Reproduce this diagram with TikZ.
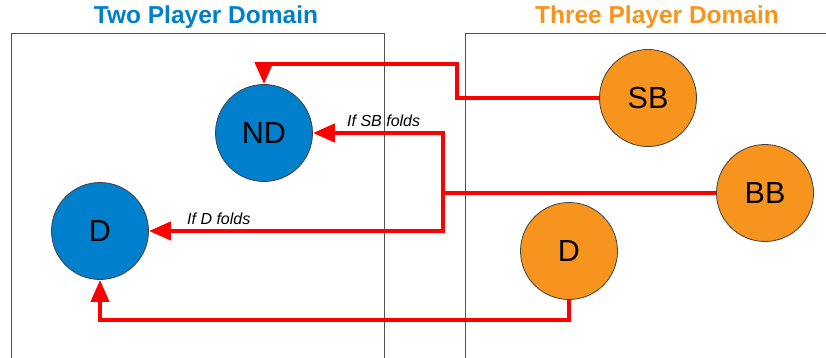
\documentclass[tikz,border=0pt]{standalone}
\usepackage{fontspec}
\setmainfont{Liberation Sans}
\usetikzlibrary{arrows.meta}
\definecolor{pblue}{RGB}{0,128,204}
\definecolor{porange}{RGB}{247,148,29}
\definecolor{pred}{RGB}{255,0,0}
\definecolor{framegray}{RGB}{80,80,80}
\tikzset{
  player/.style={circle, draw=black!75, line width=0.8pt, minimum size=97pt, inner sep=0pt,
    font=\fontsize{30.5}{32}\selectfont},
  twop/.style={player, fill=pblue},
  threep/.style={player, fill=porange},
  domainframe/.style={draw=framegray, line width=1pt},
  domaintitle/.style={font=\fontsize{24.5}{27}\selectfont\bfseries},
  link/.style={draw=pred, line width=4pt, -{Triangle[length=22pt,width=18pt]}},
  cond/.style={font=\fontsize{16}{18}\selectfont\itshape, inner sep=0pt},
}
\begin{document}
\begin{tikzpicture}[x=1pt,y=-1pt]
\useasboundingbox (0,0) rectangle (826,358);
\fill[white] (0,0) rectangle (826,358);

% domain frames
\draw[domainframe] (11,34) rectangle (384,380);
\draw[domainframe] (465,34) rectangle (840,380);
\node[domaintitle, text=pblue] (t2) at (206,17) {Two Player Domain};
\node[domaintitle, text=porange] (t3) at (657,17) {Three Player Domain};

% players
\node[twop] (ND) at (264,133) {ND};
\node[twop] (DL) at (100,231) {D};
\node[threep] (SB) at (648,98) {SB};
\node[threep] (BB) at (765,193) {BB};
\node[threep] (DR) at (569,251) {D};

% transitions
\coordinate (sbbend) at (457,64);
\coordinate (split) at (443,193);
\draw[link] (SB.west) -| (sbbend) -| (ND.north);
\draw[link] (BB.west) -- (split) |- (ND.east);
\draw[link] (BB.west) -- (split) |- (DL.east);
\draw[link] (DR.south) -- ++(0,20) -| (DL.south);

\node[cond, anchor=south west] (l1) at (347,127) {If SB folds};
\node[cond, anchor=south west] (l2) at (187,225) {If D folds};
\end{tikzpicture}
\end{document}
